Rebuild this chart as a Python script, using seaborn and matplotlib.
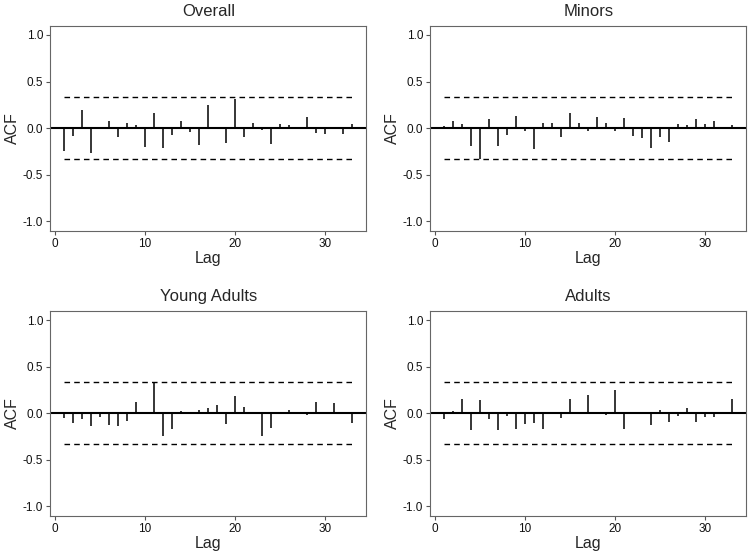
import numpy as np
import seaborn as sns
import matplotlib.pyplot as plt

# Lags and ACF values
lags = np.arange(1, 34)
conf = 0.33

acf_overall = [-0.24, -0.08, 0.20, -0.27, 0.01, 0.075, -0.10, 0.06, 0.03, -0.20,
               0.165, -0.21, -0.07, 0.08, -0.04, -0.18, 0.245, 0.005, -0.16, 0.31,
               -0.10, 0.055, -0.02, -0.17, 0.045, 0.03, 0.0, 0.125, -0.05, -0.065,
               0.01, -0.06, 0.05]
acf_minors = [0.02, 0.08, 0.05, -0.19, -0.33, 0.10, -0.19, -0.07, 0.13, -0.03,
              -0.225, 0.055, 0.055, -0.10, 0.16, 0.055, -0.03, 0.115, 0.055, -0.03,
              0.11, -0.085, -0.105, -0.21, -0.09, -0.15, 0.04, 0.03, 0.095, 0.05,
              0.08, 0.0, 0.03]
acf_young = [-0.05, -0.10, -0.06, -0.135, -0.035, -0.125, -0.135, -0.08, 0.12, 0.0,
             0.335, -0.24, -0.165, 0.02, 0.005, 0.03, 0.055, 0.085, -0.12, 0.19,
             0.065, 0.0, -0.24, -0.16, 0.0, 0.04, 0.015, -0.015, 0.125, 0.0,
             0.115, 0.0, -0.11]
acf_adults = [-0.065, 0.02, 0.15, -0.18, 0.145, -0.065, -0.175, -0.03, -0.165, -0.115,
              -0.11, -0.165, 0.0, -0.05, 0.15, 0.0, 0.195, 0.0, -0.02, 0.245,
              -0.17, 0.0, 0.0, -0.125, 0.035, -0.09, -0.03, 0.055, -0.09, -0.035,
              -0.04, -0.005, 0.155]

titles = ['Overall', 'Minors', 'Young Adults', 'Adults']
series = [acf_overall, acf_minors, acf_young, acf_adults]

sns.set_theme(style='ticks')
plt.rcParams['font.family'] = ['Liberation Sans', 'DejaVu Sans']

fig, axes = plt.subplots(2, 2, figsize=(7.5, 5.57), dpi=100)
fig.subplots_adjust(left=0.067, right=0.995, top=0.954, bottom=0.074,
                    wspace=0.202, hspace=0.39)

for ax, title, acf in zip(axes.flat, titles, series):
    ax.vlines(lags, 0, acf, color='black', linewidth=1.1)
    ax.axhline(0, color='black', linewidth=1.5)
    ax.hlines([conf, -conf], lags[0], lags[-1], color='black',
              linewidth=1.0, linestyle=(0, (4, 3)))
    ax.set_xlim(-0.55, 34.6)
    ax.set_ylim(-1.1, 1.1)
    ax.set_xticks([0, 10, 20, 30])
    ax.set_yticks([-1.0, -0.5, 0.0, 0.5, 1.0])
    ax.set_yticklabels(['-1.0', '-0.5', '0.0', '0.5', '1.0'])
    ax.set_title(title, fontsize=12, pad=7)
    ax.set_xlabel('Lag', fontsize=11.5, labelpad=1)
    ax.set_ylabel('ACF', fontsize=11.5, labelpad=2)
    ax.tick_params(labelsize=8.5, length=3, width=0.8, color='#555555',
                   labelcolor='#111111', pad=2)
    for s in ax.spines.values():
        s.set_color('#666666')
        s.set_linewidth(0.8)

fig.savefig('out.png', dpi=100)
